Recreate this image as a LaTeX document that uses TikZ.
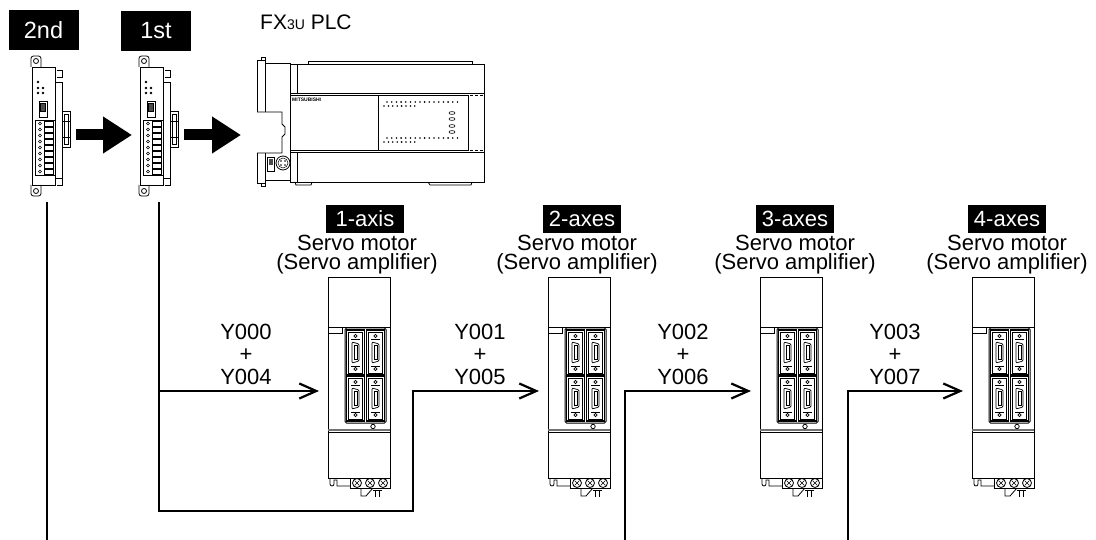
\documentclass[tikz,border=0pt]{standalone}
\usepackage{fontspec}
\setmainfont{Liberation Sans}
\usetikzlibrary{arrows.meta}
\tikzset{
  dev/.style={line width=0.8pt, draw=black},
  wire/.style={line width=2.2pt, draw=black},
  sig/.style={wire, -{Straight Barb[length=17pt,width=15pt]}},
  bigarrow/.style={line width=11pt, -{Triangle[length=29pt,width=35pt]}},
  tagbox/.style={fill=black, text=white, inner sep=0pt, minimum width=78pt, minimum height=28pt, font=\fontsize{22}{22}\selectfont},
  unittag/.style={fill=black, text=white, inner sep=0pt, minimum width=70pt, minimum height=40pt, font=\fontsize{23.5}{23.5}\selectfont},
  lbl/.style={font=\fontsize{22}{22}\selectfont, anchor=base, inner sep=0pt},
  ylbl/.style={font=\fontsize{22}{22.5}\selectfont, align=center, inner sep=0pt},
  servo/.pic={
    \draw[dev, fill=white] (0,0) rectangle (62,201);
    \draw[dev] (0,50) -- (62,50);
    \draw[dev] (0,50) rectangle (14,56);
    \draw[dev, line width=1pt, rounded corners=1.5pt] (17,51) rectangle (58,146);
    \foreach \cx in {18.5,38.5}{ \foreach \cy in {53,99}{
      \begin{scope}[shift={(\cx,\cy)}]
        \draw[line width=1.3pt] (0,0) rectangle (18,45);
        \draw[line width=0.6pt] (2,2) rectangle (16,43);
        \draw[line width=0.6pt] (9,6) circle (1.6pt);
        \draw[line width=0.6pt] (4.5,9) -- (13.5,9);
        \draw[line width=0.7pt, rounded corners=1pt] (5.5,12) -- (12.5,14) -- (12.5,31) -- (5.5,33) -- cycle;
        \draw[line width=0.5pt] (7.5,15.5) rectangle (10.5,29.5);
        \draw[line width=0.6pt] (4.5,36) -- (13.5,36);
        \draw[line width=0.6pt] (9,39) circle (1.6pt);
      \end{scope}}}
    \draw[dev] (45,149.5) circle (2.2pt);
    \draw[line width=1.2pt, black!55] (0,153) -- (62,153);
    \draw[line width=0.5pt] (0,155.5) -- (62,155.5);
    \draw[dev] (22,201) rectangle (62,211);
    \foreach \cx in {29,42,55}{
      \draw[dev] (\cx,206) circle (4.5pt);
      \draw[line width=0.6pt] (\cx-2.5,203.5) -- (\cx+2.5,208.5) (\cx-2.5,208.5) -- (\cx+2.5,203.5);}
    \draw[dev] (2,201) -- (2,207) arc[start angle=180,end angle=360,radius=2pt] -- (6,203) -- (9,203) -- (9,209) -- (22,209);
    \draw[dev] (33,211) -- (33,219) -- (38,219) -- (45,211);
    \draw[dev] (45,213) -- (54,213) (47.5,213) -- (47.5,220) (51.5,213) -- (51.5,220);
    \coordinate (-in) at (-9,114);
  },
  module/.pic={
    \draw[dev, rounded corners=2.5pt] (3,12) -- (3,1) -- (13,1) -- (13,12);
    \draw[dev] (8,6) circle (2.5pt);
    \draw[dev] (29,15) -- (34,15) -- (34,22) -- (29,22);
    \draw[dev] (29,123) -- (34,123) -- (34,130) -- (29,130);
    \draw[dev] (27,27) rectangle (34,123);
    \draw[dev, fill=white] (4,12) rectangle (27,130);
    \draw[dev] (34,56) rectangle (42,92);
    \draw[dev] (36,59) rectangle (40,89);
    \draw[dev] (34,66) -- (42,66) (34,82) -- (42,82);
    \draw[dev] (7,65) rectangle (27,120);
    \foreach \i in {0,...,8}{
      \draw[line width=0.5pt] (12,68.5+6*\i) circle (1.5pt);
      \draw[line width=0.5pt] (16,66+6*\i) rectangle (25,71+6*\i);}
    \fill (10,27) circle (1.4pt) (10,33) circle (1.4pt) (15,33) circle (1.4pt)
          (10,38) circle (1.4pt) (15,38) circle (1.4pt);
    \draw[dev] (11,46) rectangle (19,62);
    \draw[line width=0.5pt, fill=black!70] (12.5,48) rectangle (17.5,56);
    \draw[dev, rounded corners=2.5pt] (3,130) -- (3,141) -- (13,141) -- (13,130);
    \draw[dev] (8,136) circle (2.5pt);
    \coordinate (-out) at (48,80);
    \coordinate (-in) at (-4,80);
  }
}
\begin{document}
\begin{tikzpicture}[x=1pt,y=-1pt]
\useasboundingbox (0,0) rectangle (1096,540);

% unit tags
\node[unittag] (t2nd) at (43.5,30.5) {2nd};
\node[unittag] (t1st) at (156,31) {1st};
\node[anchor=base west, inner sep=0pt, font=\fontsize{21}{21}\selectfont] (plctext) at (260,30)
  {FX{\fontsize{14}{14}\selectfont 3U} PLC};

% modules
\pic (m2) at (28,55) {module};
\pic (m1) at (136,55) {module};

% PLC
\begin{scope}[dev]
  \draw (257,60) rectangle (265,183);
  \draw (261,60) -- (261,57) -- (265,57) -- (265,60);
  \draw (261,183) -- (261,186) -- (265,186) -- (265,183);
  \draw (265,63) rectangle (290,180);
  \draw[fill=white] (257,112) -- (282,112) -- (282,124) -- (285,127) -- (285,134) -- (282,137) -- (282,153) -- (257,153);
  \draw (290,64) rectangle (484,182);
  \draw (308,64) -- (308,61) -- (472,61) -- (472,64);
  \draw (297,64) -- (297,93) (297,152) -- (297,182);
  \draw (290,93) -- (484,93) (290,152) -- (484,152);
  \draw[densely dashed, line width=0.5pt] (290,95) -- (484,95) (290,150) -- (484,150);
  \draw (290,95) rectangle (378,150);
  \draw (378,95) rectangle (468,150);
  \draw (295,182) -- (296,185) -- (311,185) -- (312,182);
  \draw (428,182) -- (430,185) -- (471,185) -- (472,182);
  \draw (283,163) circle (7pt);
  \draw[line width=0.5pt] (283,163) circle (5pt);
  \fill (281,161) circle (0.8pt) (285,161) circle (0.8pt) (281,165) circle (0.8pt) (285,165) circle (0.8pt);
  \draw (267,157) rectangle (274,171);
  \fill[black!70] (268.5,159) rectangle (272.5,165);
  \foreach \i in {0,...,15} \fill (387+4.7*\i,102) circle (0.9pt);
  \foreach \i in {0,...,7} \fill (384+4.4*\i,106) circle (0.9pt);
  \foreach \i in {0,...,15} \fill (387+4.7*\i,138) circle (0.9pt);
  \foreach \i in {0,...,7} \fill (384+4.4*\i,142) circle (0.9pt);
  \foreach \yy in {113,119,126,132} \draw[line width=0.6pt] (452,\yy) ellipse (3pt and 1.4pt);
\end{scope}
\node[anchor=north west, inner sep=0pt, font=\fontsize{5}{5}\selectfont\bfseries] (brand) at (292,98) {MITSUBISHI};
\coordinate (plc-in) at (241,135);

% block arrows
\draw[bigarrow] (m2-out) -- (m1-in);
\draw[bigarrow] (m1-out) -- (plc-in);

% servo amplifiers
\pic (s1) at (328,277) {servo};
\pic (s2) at (548,277) {servo};
\pic (s3) at (760,277) {servo};
\pic (s4) at (972,277) {servo};

% labels
\node[tagbox] (a1) at (365,219) {1-axis};
\node[tagbox] (a2) at (582,219) {2-axes};
\node[tagbox] (a3) at (795,219) {3-axes};
\node[tagbox] (a4) at (1007,219) {4-axes};
\foreach \n/\cx in {1/357,2/577,3/795,4/1007}{
  \node[lbl] (sm\n) at (\cx,251) {Servo motor};
  \node[lbl] (sa\n) at (\cx,269.5) {(Servo amplifier)};
}

\node[ylbl] (y1) at (246,354) {Y000\\+\\Y004};
\node[ylbl] (y2) at (480,354) {Y001\\+\\Y005};
\node[ylbl] (y3) at (683,354) {Y002\\+\\Y006};
\node[ylbl] (y4) at (895,354) {Y003\\+\\Y007};

% wiring
\coordinate (m2-down) at (47,202);
\coordinate (m1-down) at (159,202);
\coordinate (e2) at (47,540);
\coordinate (b1) at (413,511);
\coordinate (e3) at (625,540);
\coordinate (e4) at (848,540);
\draw[wire] (m2-down) -- (e2);
\draw[sig] (m1-down) |- (b1) |- (s2-in);
\draw[sig] (m1-down |- s1-in) -- (s1-in);
\draw[sig] (e3) |- (s3-in);
\draw[sig] (e4) |- (s4-in);
\end{tikzpicture}
\end{document}
